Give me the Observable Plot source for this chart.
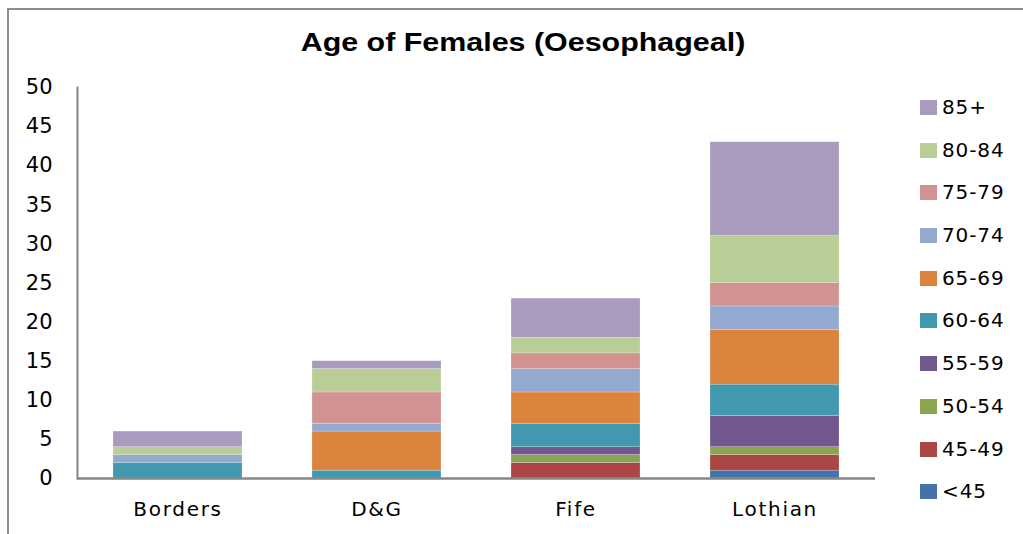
<!DOCTYPE html>
<html>
<head>
<meta charset="utf-8">
<script src="https://cdn.jsdelivr.net/npm/d3@7"></script>
<script src="https://cdn.jsdelivr.net/npm/@observablehq/plot@0.6"></script>
<style>
  html, body { margin: 0; padding: 0; background: #fff; }
  #wrap { position: relative; width: 1023px; height: 534px; overflow: hidden; }
  #frame { position: absolute; left: 7px; top: 8px; width: 1030px; height: 540px; border-left: 2px solid #8c8c8c; border-top: 2px solid #8c8c8c; }
  #title { position: absolute; left: 0; width: 1045px; top: 27px; text-align: center; font: bold 26px "Liberation Sans", Arial, sans-serif; color: #000; }
  #title span { display: inline-block; transform: scaleX(1.17); transform-origin: center; }
  #chart { position: absolute; left: 0; top: 0; }
  #chart g[aria-label="x-axis tick label"] text { letter-spacing: 1.7px; }
  #legend { position: absolute; left: 920px; top: 99px; font: 20px "DejaVu Sans", Verdana, sans-serif; color: #000; }
  .item { height: 42.7px; display: flex; align-items: flex-start; white-space: nowrap; }
  .sw { width: 17px; height: 15px; margin-top: 1px; margin-right: 5px; flex: none; }
  .lab { line-height: 17px; letter-spacing: 0.9px; }
</style>
</head>
<body>
<div id="wrap">
  <div id="frame"></div>
  <div id="chart"></div>
  <div id="title"><span>Age of Females (Oesophageal)</span></div>
  <div id="legend"></div>
</div>
<script>
const regions = ["Borders", "D&G", "Fife", "Lothian"];
const ageGroups = ["<45", "45-49", "50-54", "55-59", "60-64", "65-69", "70-74", "75-79", "80-84", "85+"];
const colors = ["#4572A7", "#AA4643", "#89A54E", "#71588F", "#4198AF", "#DB843D", "#93A9CF", "#D19392", "#B9CD96", "#A99BBD"];
// counts per age group, in region order
const lt45   = [0, 0, 0, 1];
const a45_49 = [0, 0, 2, 2];
const a50_54 = [0, 0, 1, 1];
const a55_59 = [0, 0, 1, 4];
const a60_64 = [2, 1, 3, 4];
const a65_69 = [0, 5, 4, 7];
const a70_74 = [1, 1, 3, 3];
const a75_79 = [0, 4, 2, 3];
const a80_84 = [1, 3, 2, 6];
const a85p   = [2, 1, 5, 12];
const yTicks = [0, 5, 10, 15, 20, 25, 30, 35, 40, 45, 50];

const series = [lt45, a45_49, a50_54, a55_59, a60_64, a65_69, a70_74, a75_79, a80_84, a85p];
const data = [];
series.forEach((vals, gi) => vals.forEach((v, ri) => data.push({region: regions[ri], age: ageGroups[gi], value: v})));

const plot = Plot.plot({
  width: 1023,
  height: 534,
  marginLeft: 77,
  marginRight: 148,
  marginTop: 87,
  marginBottom: 56,
  style: { fontFamily: "'DejaVu Sans', Verdana, sans-serif", fontSize: "20px", color: "#000", background: "transparent" },
  x: { domain: regions, paddingInner: 0.353, paddingOuter: 0.1765, label: null },
  y: { domain: [0, 50], label: null },
  color: { domain: ageGroups, range: colors },
  marks: [
    Plot.barY(data, Plot.stackY({ x: "region", y: "value", fill: "age", order: ageGroups, filter: d => d.value > 0, stroke: "#fff", strokeOpacity: 0.35, strokeWidth: 0.6 })),
    Plot.axisY({ ticks: yTicks, tickSize: 0, tickPadding: 25, fontSize: 21, fill: "#000" }),
    Plot.axisX({ tickSize: 0, tickPadding: 23, fontSize: 20, fill: "#000" }),
    Plot.ruleY([0], { stroke: "#868686", strokeWidth: 2.5 }),
    Plot.frame({ anchor: "left", stroke: "#868686", strokeWidth: 2 })
  ]
});
document.getElementById("chart").appendChild(plot);

const legend = document.getElementById("legend");
ageGroups.slice().reverse().forEach((g) => {
  const i = ageGroups.indexOf(g);
  const row = document.createElement("div");
  row.className = "item";
  row.innerHTML = `<div class="sw" style="background:${colors[i]}"></div><div class="lab"></div>`;
  row.querySelector(".lab").textContent = g;
  legend.appendChild(row);
});
</script>
</body>
</html>
